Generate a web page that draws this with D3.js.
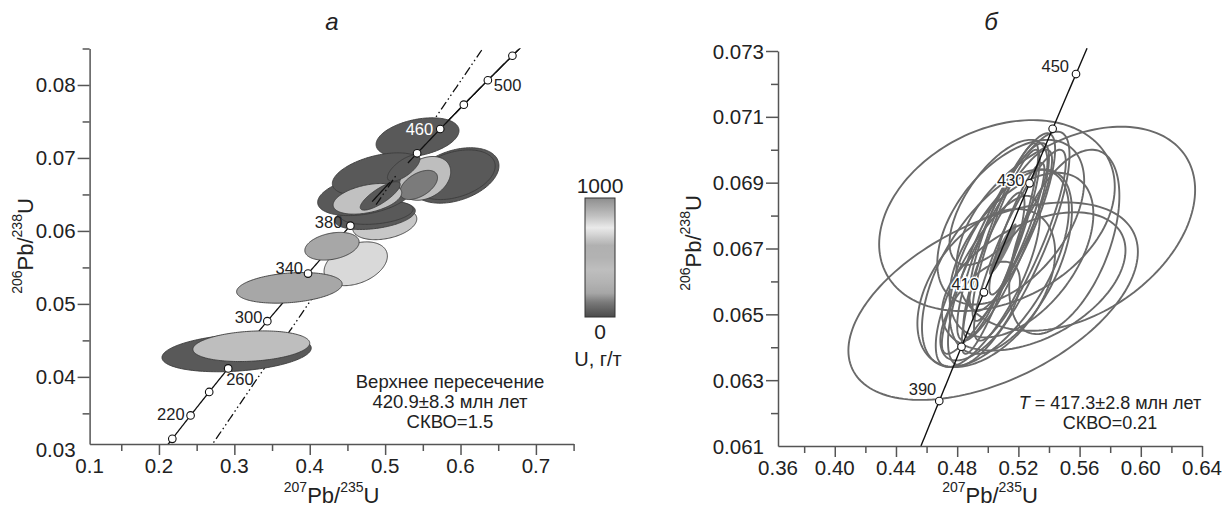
<!DOCTYPE html>
<html>
<head>
<meta charset="utf-8">
<script src="https://cdn.jsdelivr.net/npm/d3@7"></script>
<style>
  body { margin: 0; background: #fff; }
  svg { display: block; }
  text { font-family: "Liberation Sans", Arial, sans-serif; }
</style>
</head>
<body>
<svg id="chart" width="1230" height="506"></svg>
<script>
// U-Pb decay constants, 1/Ma
const L238 = 1.55125e-4;
const L235 = 9.8485e-4;

// ---------- panel a: zircon analyses coloured by U content ----------
const aPb207U235 = [0.461, 0.373, 0.4295, 0.4995, 0.4865, 0.489, 0.4735, 0.543, 0.593, 0.592, 0.490, 0.553, 0.5445, 0.5246, 0.4765, 0.4935, 0.303, 0.3225];
const aErr207    = [0.042, 0.070, 0.036, 0.0425, 0.0535, 0.048, 0.063, 0.055, 0.058, 0.054, 0.060, 0.034, 0.025, 0.0215, 0.0455, 0.0265, 0.099, 0.0775];
const aPb206U238 = [0.0555, 0.0522, 0.0579, 0.0610, 0.0621, 0.0625, 0.0649, 0.0728, 0.0676, 0.0677, 0.0678, 0.0672, 0.0663, 0.0686, 0.0644, 0.0648, 0.0433, 0.0442];
const aErr206    = [0.0030, 0.0021, 0.0019, 0.0022, 0.0019, 0.0016, 0.0028, 0.0027, 0.0038, 0.0034, 0.0029, 0.0030, 0.0020, 0.0018, 0.0021, 0.00195, 0.0026, 0.0021];
const aRho       = [0.35, 0.25, 0.3, 0.3, 0.35, 0.3, 0.35, 0.35, 0.35, 0.35, 0.45, 0.3, 0.5, 0.7, 0.4, 0.8, 0.25, 0.2];
const aU         = [705, 210, 210, 660, 40, 40, 40, 40, 40, 40, 40, 635, 125, 40, 645, 40, 40, 400];

const aConcAges  = [200, 220, 240, 260, 300, 340, 380, 440, 460, 480, 500, 520];
const aAgeLabels = [220, 260, 300, 340, 380, 460, 500];
const aUpperIntercept = 420.9;   // Ma
const aDiscordiaSlope = 0.1512;  // d(206/238) / d(207/235)

const aXMajor = [0.2, 0.3, 0.4, 0.5, 0.6, 0.7];
const aXMinor = [0.15, 0.25, 0.35, 0.45, 0.55, 0.65, 0.75];
const aXLabels = [0.1, 0.2, 0.3, 0.4, 0.5, 0.6, 0.7];
const aYMajor = [0.04, 0.05, 0.06, 0.07, 0.08];
const aYMinor = [0.035, 0.045, 0.055, 0.065, 0.075, 0.085];
const aYLabels = [0.03, 0.04, 0.05, 0.06, 0.07, 0.08];

// colour bar: U, g/t -> grey
const uStops    = [0, 120, 200, 300, 400, 500, 600, 750, 850, 1000];
const greyStops = ["#4a4a4a", "#787878", "#a6a6a6", "#b4b4b4", "#bebebe", "#b2b2b2", "#b0b0b0", "#eaeaea", "#c0c0c0", "#8e8e8e"];

// ---------- panel б: analyses of the concordant cluster ----------
const bPb207U235 = [0.5035, 0.506, 0.5575, 0.550, 0.5137, 0.505, 0.515, 0.522, 0.510, 0.508, 0.512, 0.504, 0.516, 0.500, 0.519, 0.499, 0.530, 0.495, 0.507, 0.515, 0.506, 0.521];
const bErr207    = [0.0946, 0.077, 0.078, 0.036, 0.0397, 0.048, 0.040, 0.047, 0.030, 0.025, 0.022, 0.020, 0.028, 0.034, 0.018, 0.045, 0.060, 0.026, 0.032, 0.048, 0.036, 0.030];
const bPb206U238 = [0.0654, 0.0680, 0.0676, 0.0672, 0.0670, 0.0664, 0.0666, 0.0668, 0.0672, 0.0670, 0.0674, 0.0665, 0.0678, 0.0660, 0.0676, 0.0658, 0.0660, 0.0651, 0.0684, 0.0678, 0.0669, 0.0671];
const bErr206    = [0.0030, 0.0029, 0.0031, 0.0028, 0.00355, 0.0030, 0.0028, 0.0025, 0.0030, 0.0032, 0.0026, 0.0022, 0.0027, 0.0026, 0.0020, 0.0024, 0.0021, 0.0015, 0.0019, 0.0025, 0.0031, 0.0029];
const bRho       = [0.5, 0.3, 0.38, 0.5, 0.8, 0.6, 0.55, 0.5, 0.85, 0.9, 0.88, 0.85, 0.82, 0.75, 0.9, 0.45, 0.45, 0.6, 0.65, 0.5, 0.9, 0.87];
// concordia age ellipse (weighted mean)
const bMean = { x: 0.5098, sx: 0.009, y: 0.06698, sy: 0.00078, rho: 0.93 };

const bConcAges  = [390, 400, 410, 430, 440, 450];
const bAgeLabels = [390, 410, 430, 450];

const bXMajor = [0.40, 0.44, 0.48, 0.52, 0.56, 0.60, 0.64];
const bXMinor = [0.38, 0.42, 0.46, 0.50, 0.54, 0.58, 0.62];
const bXLabels = [0.36, 0.40, 0.44, 0.48, 0.52, 0.56, 0.60, 0.64];
const bYMajor = [0.063, 0.065, 0.067, 0.069, 0.071, 0.073];
const bYMinor = [0.062, 0.064, 0.066, 0.068, 0.070, 0.072];
const bYLabels = [0.061, 0.063, 0.065, 0.067, 0.069, 0.071, 0.073];

// ---------- helpers ----------
const svg = d3.select("#chart");
const defs = svg.append("defs");
const conc = t => [Math.exp(L235 * t) - 1, Math.exp(L238 * t) - 1];
const uGrey = d3.scaleLinear().domain(uStops).range(greyStops).clamp(true);

function ellipsePoints(xs, ys, cx, hx, cy, hy, rho) {
  const s = Math.sqrt(1 - rho * rho);
  return d3.range(160).map(i => {
    const t = 2 * Math.PI * i / 160;
    return [xs(cx + hx * Math.cos(t)), ys(cy + hy * (rho * Math.cos(t) + s * Math.sin(t)))];
  });
}
const closed = d3.line().curve(d3.curveLinearClosed);
const open = d3.line();
const TICK_FONT = 20.5;

function drawAxes(g, xs, ys, xMajor, xMinor, xLabels, yMajor, yMinor, yLabels, fmt) {
  const axisCol = "#555";
  g.append("g").attr("transform", `translate(0,${ys.range()[0]})`)
    .call(d3.axisBottom(xs).tickValues(xMajor).tickSize(11).tickSizeOuter(0).tickFormat(""));
  g.append("g").attr("transform", `translate(0,${ys.range()[0]})`)
    .call(d3.axisBottom(xs).tickValues(xMinor).tickSize(7).tickSizeOuter(0).tickFormat(""))
    .select(".domain").remove();
  g.append("g").attr("transform", `translate(${xs.range()[0]},0)`)
    .call(d3.axisLeft(ys).tickValues(yMajor).tickSize(12).tickSizeOuter(0).tickFormat(""));
  g.append("g").attr("transform", `translate(${xs.range()[0]},0)`)
    .call(d3.axisLeft(ys).tickValues(yMinor).tickSize(7).tickSizeOuter(0).tickFormat(""))
    .select(".domain").remove();
  g.selectAll(".domain, .tick line").attr("stroke", axisCol).attr("stroke-width", 1.5);

  const x0 = xs.range()[0];
  g.selectAll(null).data(xLabels).join("text")
    .attr("x", d => Math.max(xs(d), x0))
    .attr("y", ys.range()[0] + 29)
    .attr("text-anchor", "middle")
    .attr("font-size", TICK_FONT).attr("fill", "#222")
    .text(d => fmt.x(d));
  g.selectAll(null).data(yLabels).join("text")
    .attr("x", x0 - 14)
    .attr("y", d => ys(d) + 7.5)
    .attr("text-anchor", "end")
    .attr("font-size", TICK_FONT).attr("fill", "#222")
    .text(d => fmt.y(d));
}

function ratioLabel(g, x, y, a, b, rotate) {
  const t = g.append("text")
    .attr("transform", `translate(${x},${y})` + (rotate ? " rotate(-90)" : ""))
    .attr("text-anchor", "middle").attr("font-size", 22).attr("fill", "#222");
  t.append("tspan").attr("font-size", 14).attr("dy", -11).text(a);
  t.append("tspan").attr("dy", 11).text("Pb/");
  t.append("tspan").attr("font-size", 14).attr("dy", -11).text(b);
  t.append("tspan").attr("dy", 11).text("U");
}

// ================= panel a =================
const ax = d3.scaleLinear().domain([0.108, 0.75]).range([89.6, 573.6]);
const ay = d3.scaleLinear().domain([0.0308, 0.085]).range([444, 48.5]);
const ga = svg.append("g");

defs.append("clipPath").attr("id", "clipA")
  .append("rect").attr("x", 89.6).attr("y", 48.5).attr("width", 484).attr("height", 395.5);

const plotA = ga.append("g").attr("clip-path", "url(#clipA)");
const aConcLine = (t0, t1) => open(d3.range(t0, t1 + 0.01, 1).map(t => { const p = conc(t); return [ax(p[0]), ay(p[1])]; }));
const ui = conc(aUpperIntercept);
const discY = x => ui[1] + aDiscordiaSlope * (x - ui[0]);
const aDiscLine = (x0, x1) => open(d3.range(x0, x1 + 1e-9, 0.002).map(x => [ax(x), ay(discY(x))]));
const dashDot = "9,3,1.5,3,1.5,3";

// concordia and discordia under the ellipses
plotA.append("path").attr("d", aConcLine(190, 530)).attr("fill", "none").attr("stroke", "#111").attr("stroke-width", 1.3);
plotA.append("path").attr("d", aDiscLine(0.26, 0.64)).attr("fill", "none").attr("stroke", "#111").attr("stroke-width", 1.3).attr("stroke-dasharray", dashDot);

// error ellipses
plotA.selectAll("path.ell").data(d3.range(aPb207U235.length)).join("path")
  .attr("class", "ell")
  .attr("d", i => closed(ellipsePoints(ax, ay, aPb207U235[i], aErr207[i], aPb206U238[i], aErr206[i], aRho[i])))
  .attr("fill", i => uGrey(aU[i]))
  .attr("stroke", "#3c3c3c").attr("stroke-width", 0.9);

// curve segments visible above the ellipses
plotA.append("path").attr("d", aConcLine(432, 530)).attr("fill", "none").attr("stroke", "#111").attr("stroke-width", 1.3);
plotA.append("path").attr("d", aConcLine(400, 416)).attr("fill", "none").attr("stroke", "#111").attr("stroke-width", 1.3);
plotA.append("path").attr("d", aDiscLine(0.488, 0.514)).attr("fill", "none").attr("stroke", "#111").attr("stroke-width", 1.3).attr("stroke-dasharray", dashDot);

plotA.selectAll("circle.age").data(aConcAges).join("circle")
  .attr("class", "age")
  .attr("cx", t => ax(conc(t)[0])).attr("cy", t => ay(conc(t)[1])).attr("r", 3.8)
  .attr("fill", "#fff").attr("stroke", "#111").attr("stroke-width", 1.1);

const aLabelPos = {
  220: { dx: -6, dy: 5, anchor: "end" },
  260: { dx: -2, dy: 17, anchor: "start" },
  300: { dx: -5, dy: 2, anchor: "end" },
  340: { dx: -5, dy: 0, anchor: "end" },
  380: { dx: -8, dy: 2, anchor: "end" },
  460: { dx: -7, dy: 6, anchor: "end", fill: "#fff" },
  500: { dx: 6, dy: 11, anchor: "start" }
};
ga.selectAll("text.age").data(aAgeLabels).join("text")
  .attr("class", "age")
  .attr("x", t => ax(conc(t)[0]) + aLabelPos[t].dx)
  .attr("y", t => ay(conc(t)[1]) + aLabelPos[t].dy)
  .attr("text-anchor", t => aLabelPos[t].anchor)
  .attr("font-size", 16.5)
  .attr("fill", t => aLabelPos[t].fill || "#222")
  .text(t => t);

drawAxes(ga, ax, ay, aXMajor, aXMinor, aXLabels, aYMajor, aYMinor, aYLabels,
  { x: d3.format(".1f"), y: d3.format(".2f") });
ratioLabel(ga, 331.6, 503, "207", "235", false);
ratioLabel(ga, 33, 246, "206", "238", true);

ga.append("text").attr("x", 332).attr("y", 30).attr("text-anchor", "middle")
  .attr("font-family", "Liberation Serif, serif").attr("font-style", "italic").attr("font-size", 24)
  .attr("fill", "#222").text("а");

const noteA = ["Верхнее пересечение", `${aUpperIntercept}±8.3 млн лет`, "СКВО=1.5"];
ga.selectAll("text.note").data(noteA).join("text")
  .attr("class", "note").attr("x", 450).attr("y", (d, i) => 388 + i * 20)
  .attr("text-anchor", "middle").attr("font-size", 18.5).attr("fill", "#222").text(d => d);

// colour bar
const cb = { x: 585, y: 198, w: 30, h: 119 };
const grad = defs.append("linearGradient").attr("id", "uGrad")
  .attr("x1", 0).attr("y1", 1).attr("x2", 0).attr("y2", 0);
grad.selectAll("stop").data(d3.range(0, 1001, 25)).join("stop")
  .attr("offset", d => d / 1000).attr("stop-color", d => uGrey(d));
ga.append("rect").attr("x", cb.x).attr("y", cb.y).attr("width", cb.w).attr("height", cb.h)
  .attr("fill", "url(#uGrad)").attr("stroke", "#333").attr("stroke-width", 1);
ga.append("text").attr("x", cb.x + cb.w / 2).attr("y", cb.y - 5).attr("text-anchor", "middle")
  .attr("font-size", 21).attr("fill", "#222").text(uStops[uStops.length - 1]);
ga.append("text").attr("x", cb.x + cb.w / 2).attr("y", cb.y + cb.h + 22).attr("text-anchor", "middle")
  .attr("font-size", 21).attr("fill", "#222").text(uStops[0]);
ga.append("text").attr("x", cb.x + cb.w / 2 - 2).attr("y", cb.y + cb.h + 49).attr("text-anchor", "middle")
  .attr("font-size", 20).attr("fill", "#222").text("U, г/т");

// ================= panel б =================
const bx = d3.scaleLinear().domain([0.3629, 0.64]).range([778, 1202]);
const by = d3.scaleLinear().domain([0.061, 0.073]).range([446, 51]);
const gb = svg.append("g");

gb.append("path")
  .attr("d", closed(ellipsePoints(bx, by, bMean.x, bMean.sx, bMean.y, bMean.sy, bMean.rho)))
  .attr("fill", "#7c7c7c").attr("stroke", "none");

gb.selectAll("path.ell").data(d3.range(bPb207U235.length)).join("path")
  .attr("class", "ell")
  .attr("d", i => closed(ellipsePoints(bx, by, bPb207U235[i], bErr207[i], bPb206U238[i], bErr206[i], bRho[i])))
  .attr("fill", "none").attr("stroke", "#6a6a6a").attr("stroke-width", 1.9);

const bConc = open(d3.range(381.7, 455.01, 0.5).map(t => { const p = conc(t); return [bx(p[0]), by(p[1])]; }));
gb.append("path").attr("d", bConc).attr("fill", "none").attr("stroke", "#111").attr("stroke-width", 1.4);

gb.selectAll("circle.age").data(bConcAges).join("circle")
  .attr("class", "age")
  .attr("cx", t => bx(conc(t)[0])).attr("cy", t => by(conc(t)[1])).attr("r", 3.8)
  .attr("fill", "#fff").attr("stroke", "#111").attr("stroke-width", 1.1);

const bLabelPos = {
  390: { dx: -3, dy: -6 },
  410: { dx: -5, dy: -2 },
  430: { dx: -5, dy: 3 },
  450: { dx: -7, dy: -2 }
};
gb.selectAll("text.age").data(bAgeLabels).join("text")
  .attr("class", "age")
  .attr("x", t => bx(conc(t)[0]) + bLabelPos[t].dx)
  .attr("y", t => by(conc(t)[1]) + bLabelPos[t].dy)
  .attr("text-anchor", "end").attr("font-size", 16.5).attr("fill", "#222")
  .attr("stroke", "#fff").attr("stroke-width", 3).attr("paint-order", "stroke")
  .text(t => t);

drawAxes(gb, bx, by, bXMajor, bXMinor, bXLabels, bYMajor, bYMinor, bYLabels,
  { x: d3.format(".2f"), y: d3.format(".3f") });
ratioLabel(gb, 990, 503, "207", "235", false);
ratioLabel(gb, 701, 243, "206", "238", true);

gb.append("text").attr("x", 991).attr("y", 30).attr("text-anchor", "middle")
  .attr("font-family", "Liberation Serif, serif").attr("font-style", "italic").attr("font-size", 24)
  .attr("fill", "#222").text("б");

const noteB = gb.append("text").attr("x", 1110).attr("y", 409).attr("text-anchor", "middle")
  .attr("font-size", 18).attr("fill", "#222");
noteB.append("tspan").attr("font-style", "italic").text("T");
noteB.append("tspan").text(" = 417.3±2.8 млн лет");
gb.append("text").attr("x", 1110).attr("y", 429).attr("text-anchor", "middle")
  .attr("font-size", 18).attr("fill", "#222").text("СКВО=0.21");
</script>
</body>
</html>
